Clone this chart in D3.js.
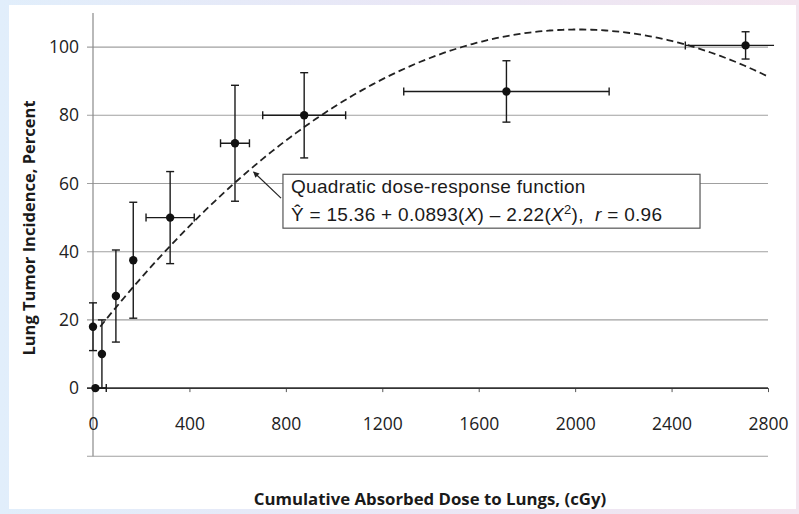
<!DOCTYPE html>
<html>
<head>
<meta charset="utf-8">
<script src="https://cdn.jsdelivr.net/npm/d3@7/dist/d3.min.js"></script>
<style>
  html, body { margin: 0; padding: 0; }
  body { width: 799px; height: 514px; overflow: hidden; }
  svg { display: block; }
</style>
</head>
<body>
<svg id="chart" width="799" height="514"></svg>
<script>
// Cumulative absorbed dose (cGy) for each exposure group
const doseX = [0, 37, 10, 95, 167, 320, 589, 876, 1715, 2707];
// Lung tumor incidence (%) for each group
const incidence = [18, 10, 0, 27, 37.5, 50, 71.8, 80, 87, 100.5];
// Horizontal (dose) error half-widths
const doseErr = [0, 0, 45, 0, 0, 100, 60, 172, 426, 250];
// Vertical (incidence) error half-heights
const incidenceErr = [7, 10, 0, 13.5, 17, 13.5, 17, 12.5, 9, 4];

// Axis ticks
const xTicks = [0, 400, 800, 1200, 1600, 2000, 2400, 2800];
const yTicks = [0, 20, 40, 60, 80, 100];
const yGrid = [-20, 20, 40, 60, 80, 100];

// Quadratic dose-response fit: Y = a + b*X + c*X^2 (c shown in units of 1e-5)
const fitCoef = [15.36, 0.0893, -2.22];
const fitCoefScale = [1, 1, 1e-5];
const fitRange = [30, 2800];
const fitSteps = 140;

const svg = d3.select("#chart");
const W = 799, H = 514;

// Backdrop and white sheet
const defs = svg.append("defs");
const bg = defs.append("linearGradient").attr("id", "bg")
  .attr("x1", "0").attr("y1", "0").attr("x2", "1").attr("y2", "0");
bg.append("stop").attr("offset", "0").attr("stop-color", "#e1eefb");
bg.append("stop").attr("offset", "0.5").attr("stop-color", "#e9e7f6");
bg.append("stop").attr("offset", "1").attr("stop-color", "#f3e5ef");
svg.append("rect").attr("width", W).attr("height", H).attr("fill", "url(#bg)");
svg.append("rect").attr("x", 9).attr("y", 5).attr("width", 787).attr("height", 504).attr("fill", "#ffffff");

// Scales
const x = d3.scaleLinear().domain([0, 2800]).range([93, 768]);
const y = d3.scaleLinear().domain([-20, 110]).range([456.3, 13]);

defs.append("clipPath").attr("id", "plotClip")
  .append("rect")
  .attr("x", x(0)).attr("y", y(110))
  .attr("width", x(2825) - x(0)).attr("height", y(-20) - y(110));

const gridL = x(0) - 6;

// Horizontal gridlines
svg.append("g").selectAll("line").data(yGrid).join("line")
  .attr("x1", gridL).attr("x2", x(2800))
  .attr("y1", d => y(d)).attr("y2", d => y(d))
  .attr("stroke", "#a0a0a0").attr("stroke-width", 1.1);

// Vertical axis line
svg.append("line")
  .attr("x1", x(0)).attr("x2", x(0))
  .attr("y1", y(110)).attr("y2", y(-20))
  .attr("stroke", "#8a8a8a").attr("stroke-width", 1.2);

// Zero line with downward ticks (x axis)
const xAxis = d3.axisBottom(x).tickValues(xTicks).tickSize(4).tickFormat("");
const xAxisG = svg.append("g").attr("transform", `translate(0,${y(0)})`).call(xAxis);
xAxisG.select(".domain").remove();
xAxisG.selectAll(".tick line").attr("stroke", "#555").attr("stroke-width", 1);
svg.append("line")
  .attr("x1", gridL).attr("x2", x(2800))
  .attr("y1", y(0)).attr("y2", y(0))
  .attr("stroke", "#333").attr("stroke-width", 1.6);

// X tick labels, set low below the zero line
const xLab = d3.axisBottom(x).tickValues(xTicks).tickSize(0).tickPadding(0).tickFormat(d3.format("d"));
const xLabG = svg.append("g").attr("transform", `translate(0,${y(-10.5)})`).call(xLab);
xLabG.select(".domain").remove();
xLabG.selectAll("text")
  .attr("dy", "0.35em").attr("y", 0)
  .attr("font-family", "'Open Sans', sans-serif").attr("font-size", 17.5).attr("fill", "#222");

// Y tick labels
const yLab = d3.axisLeft(y).tickValues(yTicks).tickSize(0).tickPadding(0).tickFormat(d3.format("d"));
const yLabG = svg.append("g").attr("transform", `translate(${x(0) - 14},0)`).call(yLab);
yLabG.select(".domain").remove();
yLabG.selectAll("text")
  .attr("font-family", "'Open Sans', sans-serif").attr("font-size", 17.5).attr("fill", "#222");

// Axis titles
svg.append("text")
  .attr("transform", `translate(28,${228}) rotate(-90)`)
  .attr("text-anchor", "middle").attr("dominant-baseline", "central")
  .attr("font-family", "'Open Sans', sans-serif").attr("font-weight", 700)
  .attr("font-size", 16.5).attr("fill", "#1a1a1a")
  .text("Lung Tumor Incidence, Percent");
svg.append("text")
  .attr("x", 430).attr("y", 498)
  .attr("text-anchor", "middle").attr("dominant-baseline", "central")
  .attr("font-family", "'Open Sans', sans-serif").attr("font-weight", 700)
  .attr("font-size", 16.8).attr("fill", "#1a1a1a")
  .text("Cumulative Absorbed Dose to Lungs, (cGy)");

// Fitted quadratic curve (dashed)
const fit = X => fitCoef[0] * fitCoefScale[0] + fitCoef[1] * fitCoefScale[1] * X + fitCoef[2] * fitCoefScale[2] * X * X;
const fitPts = d3.range(fitSteps + 1).map(i => {
  const X = fitRange[0] + (fitRange[1] - fitRange[0]) * i / fitSteps;
  return [X, fit(X)];
});
svg.append("path")
  .datum(fitPts)
  .attr("d", d3.line().x(d => x(d[0])).y(d => y(d[1])).curve(d3.curveMonotoneX))
  .attr("fill", "none").attr("stroke", "#222").attr("stroke-width", 1.8)
  .attr("stroke-dasharray", "7,4");

// Data with error bars
const rows = doseX.map((d, i) => ({ x: d, y: incidence[i], ex: doseErr[i], ey: incidenceErr[i] }));
const cap = 4;
const eb = svg.append("g").attr("stroke", "#1a1a1a").attr("stroke-width", 1.4);
const hb = eb.append("g").attr("clip-path", "url(#plotClip)");
rows.filter(r => r.ex > 0).forEach(r => {
  hb.append("line").attr("x1", x(r.x - r.ex)).attr("x2", x(r.x + r.ex)).attr("y1", y(r.y)).attr("y2", y(r.y));
  [r.x - r.ex, r.x + r.ex].forEach(v => {
    hb.append("line").attr("x1", x(v)).attr("x2", x(v)).attr("y1", y(r.y) - cap).attr("y2", y(r.y) + cap);
  });
});
rows.filter(r => r.ey > 0).forEach(r => {
  eb.append("line").attr("x1", x(r.x)).attr("x2", x(r.x)).attr("y1", y(r.y - r.ey)).attr("y2", y(r.y + r.ey));
  [r.y - r.ey, r.y + r.ey].forEach(v => {
    eb.append("line").attr("x1", x(r.x) - cap).attr("x2", x(r.x) + cap).attr("y1", y(v)).attr("y2", y(v));
  });
});
svg.append("g").selectAll("circle").data(rows).join("circle")
  .attr("cx", d => x(d.x)).attr("cy", d => y(d.y)).attr("r", 4.2)
  .attr("fill", "#111");

// Annotation box with arrow pointing at the curve
const boxX = [788, 2518], boxY = [62.7, 46.9];
svg.append("rect")
  .attr("x", x(boxX[0])).attr("y", y(boxY[0]))
  .attr("width", x(boxX[1]) - x(boxX[0])).attr("height", y(boxY[1]) - y(boxY[0]))
  .attr("fill", "#fff").attr("stroke", "#555").attr("stroke-width", 1.2);

const ann = svg.append("text")
  .attr("font-family", "'Liberation Sans', Arial, sans-serif").attr("font-size", 19)
  .attr("letter-spacing", 0.3).attr("fill", "#1a1a1a");
ann.append("tspan").attr("x", x(boxX[0]) + 8).attr("y", y(boxY[0]) + 18.5).text("Quadratic dose-response function");
const l2 = ann.append("tspan").attr("x", x(boxX[0]) + 8).attr("y", y(boxY[0]) + 47);
l2.append("tspan").text("\u0176 = 15.36 + 0.0893(");
l2.append("tspan").attr("font-style", "italic").text("X");
l2.append("tspan").text(") \u2013 2.22(");
l2.append("tspan").attr("font-style", "italic").text("X");
l2.append("tspan").attr("font-size", 13).attr("dy", -7).text("2");
l2.append("tspan").attr("dy", 7).text("),\u00a0\u00a0");
l2.append("tspan").attr("font-style", "italic").text("r");
l2.append("tspan").text(" = 0.96");

defs.append("marker").attr("id", "arrow")
  .attr("viewBox", "0 0 10 10").attr("refX", 9).attr("refY", 5)
  .attr("markerWidth", 8).attr("markerHeight", 6).attr("orient", "auto")
  .attr("markerUnits", "userSpaceOnUse")
  .append("path").attr("d", "M0,0 L10,5 L0,10 Z").attr("fill", "#222");
const arrowFrom = [780, 55.7], arrowTo = [666, 63.4];
svg.append("line")
  .attr("x1", x(arrowFrom[0])).attr("y1", y(arrowFrom[1]))
  .attr("x2", x(arrowTo[0])).attr("y2", y(arrowTo[1]))
  .attr("stroke", "#222").attr("stroke-width", 1.2)
  .attr("marker-end", "url(#arrow)");
</script>
</body>
</html>
